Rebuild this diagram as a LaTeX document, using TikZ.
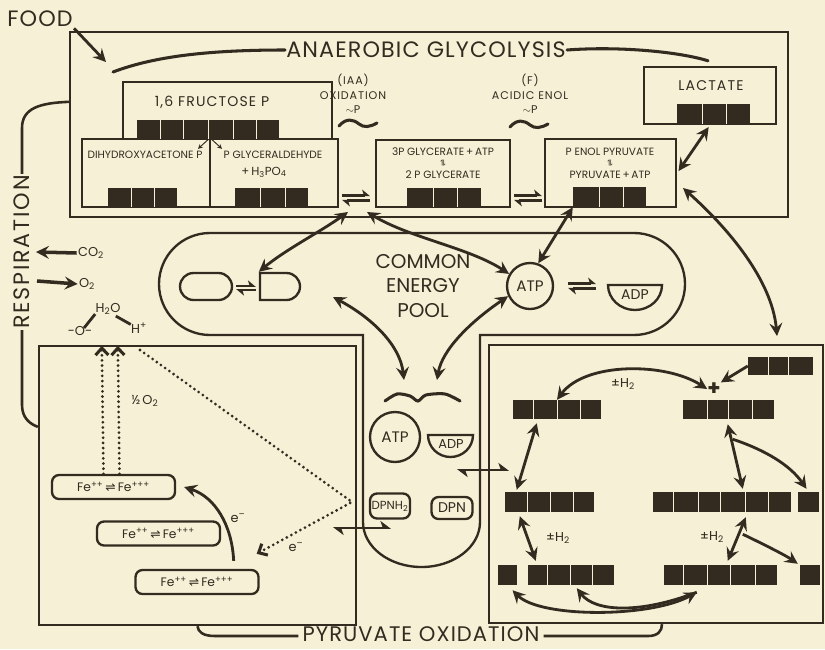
\documentclass[tikz,border=0pt]{standalone}
\usepackage{fontspec}
\setmainfont{Poppins}
\newfontfamily\harpfont{DejaVu Sans}
\newfontfamily\widefont{Poppins}[LetterSpace=8]
\newfontfamily\titlefont{Poppins}[LetterSpace=5]
\usetikzlibrary{positioning, calc, arrows.meta, fit, shapes.misc}
\definecolor{paper}{RGB}{245,240,214}
\definecolor{ink}{RGB}{52,43,32}

\begin{document}
\begin{tikzpicture}[
        x=0.03cm, y=-0.03cm,
        >={Stealth[length=11pt, width=11pt, inset=4pt]},
        frame/.style={draw=ink, line width=2pt},
        box/.style={frame, inner sep=0pt},
        pill/.style={frame, rounded corners=6pt, inner sep=0pt, text=ink, font=\fontsize{10.5}{11}\selectfont},
        molbar/.style={fill=ink, inner sep=0pt},
        cutline/.style={draw=paper, line width=0.8pt},
        bigtxt/.style={text=ink, inner sep=1pt, font=\fontsize{17}{21}\selectfont},
        titletxt/.style={text=ink, inner sep=1pt, font=\titlefont\fontsize{19}{21}\selectfont},
        midtxt/.style={text=ink, inner sep=1pt, font=\widefont\fontsize{12}{12}\selectfont},
        notetxt/.style={text=ink, inner sep=0pt, font=\widefont\fontsize{9.5}{12.5}\selectfont},
        boxtxt/.style={text=ink, inner sep=1pt, font=\fontsize{9}{10}\selectfont},
        smalltxt/.style={text=ink, inner sep=1pt, font=\fontsize{11}{12}\selectfont},
        arrow/.style={->, draw=ink, line width=2.4pt},
        twoway/.style={<->, draw=ink, line width=2.4pt},
        tinyarrow/.style={->, >={Stealth[length=4pt, width=4pt]}, draw=ink, line width=0.8pt},
        brace/.style={draw=ink, line width=2.6pt, line cap=round},
        bond/.style={draw=ink, line width=2.4pt},
        dots/.style={draw=ink, line width=2.6pt, line cap=round, dash pattern=on 0pt off 4.4pt},
        dotarrow/.style={dots, -{Straight Barb[length=6pt, width=11pt]}},
        harp/.style={draw=ink, line width=2pt, -{Stealth[harpoon, length=6pt, width=10pt, inset=1.5pt]}},
        xharp/.style={draw=ink, line width=2.2pt, {Stealth[harpoon, length=8pt, width=12pt, inset=2pt]}-{Stealth[harpoon, length=8pt, width=12pt, inset=2pt]}},
        eqm/.pic={
            \draw[harp] (-14,-2.5) -- (14,-2.5);
            \draw[harp] (14,2.5) -- (-14,2.5);
        }
    ]
        % paper
        \fill[paper] (0,0) rectangle (825,649);
        \useasboundingbox (0,0) rectangle (825,649);

        % Anaerobic glycolysis
        \node[box, fit={(70,32) (788,217)}] (glyco) {};
        \node[titletxt] (anaer) at (426,50) {ANAEROBIC GLYCOLYSIS};
        \node[titletxt] (food) at (40,19) {FOOD};
        \coordinate (foodin) at (106,62);
        \draw[arrow] (food.south east) -- (foodin);

        \node[box, fit={(123,82) (332,139)}] (fruc) {};
        \node[midtxt] (fructxt) at (212,102) {1,6 FRUCTOSE P};
        \node[box, fit={(82,139) (338,207)}] (triose) {};
        \draw[frame] (triose.north) -- (triose.south);
        \node[boxtxt] (dhap) at (145,155) {DIHYDROXYACETONE P};
        \node[boxtxt] (gapA) at (273,155) {P GLYCERALDEHYDE};
        \node[boxtxt, font=\fontsize{10}{11}\selectfont] (gapB) at (264,172) {+\,H\textsubscript{3}PO\textsubscript{4}};
        \draw[tinyarrow] (triose.north) -- ++(-12,11);
        \draw[tinyarrow] (triose.north) -- ++(12,11);

        \node[box, fit={(376,140) (510,207)}] (pgly) {};
        \node[boxtxt] (pglyA) at (443,152) {3P GLYCERATE\,+\,ATP};
        \node[boxtxt] (pglyM) at (443,163) {\rotatebox{90}{\harpfont\scriptsize ⇌}};
        \node[boxtxt] (pglyB) at (443,175) {2 P GLYCERATE};

        \node[box, fit={(545,139) (676,207)}] (pep) {};
        \node[boxtxt] (pepA) at (610,152) {P ENOL PYRUVATE};
        \node[boxtxt] (pepM) at (610,163) {\rotatebox{90}{\harpfont\scriptsize ⇌}};
        \node[boxtxt] (pepB) at (610,175) {PYRUVATE\,+\,ATP};

        \node[box, fit={(644,67) (776,124)}] (lact) {};
        \node[midtxt] (lacttxt) at (711,86) {LACTATE};

        \pic at (356,198) {eqm};
        \pic at (528,198) {eqm};

        % carbon chains
        \foreach \n/\xa/\ya/\xb/\yb/\cuts in {
                fbar/137/120/279/139/{160,183,208,233,256},
                dhapbar/108/188/177/207/{131,154},
                gapbar/235/188/308/207/{260,285},
                pglybar/407/188/481/207/{433,457},
                pepbar/573/187/646/207/{599,623},
                lacbar/677/104/750/124/{702,726},
                abar/513/400/601/419/{533,557,580},
                bbar/683/400/774/419/{707,728,752},
                sbar/748/357/813/375/{768,788},
                cbar/505/492/594/512/{527,550,573},
                dbar/653/492/791/512/{673,698,720,745,768},
                gbar/528/565/614/585/{547,570,592},
                hbar/664/565/777/585/{683,707,730,755}}{
            \node[molbar, fit={(\xa,\ya) (\xb,\yb)}] (\n) {};
            \foreach \cx in \cuts \draw[cutline] (\cx,\ya) -- (\cx,\yb);
        }
        \node[molbar, fit={(798,492) (819,512)}] (esq) {};
        \node[molbar, fit={(498,565) (517,585)}] (fsq) {};
        \node[molbar, fit={(800,565) (820,585)}] (isq) {};

        % high energy bonds
        \node[notetxt, align=center] (iaa) at (353,94) {(IAA)\\OXIDATION\\$\sim$P};
        \draw[brace] (339,126) .. controls (346,118) and (353,119) .. (359,124) .. controls (364,128) and (370,127) .. (377,123);
        \node[notetxt, align=center] (enol) at (530,94) {(F)\\ACIDIC ENOL\\$\sim$P};
        \draw[brace] (510,127) .. controls (517,119) and (524,120) .. (530,125) .. controls (535,129) and (541,128) .. (548,124);

        \coordinate (glyend) at (113,72);
        \draw[brace] (anaer.west) .. controls (200,50) and (150,58) .. (glyend);
        \draw[brace] (anaer.east) .. controls (620,46) and (680,52) .. ($(lact.north)+(-2,-5)$);
        \draw[twoway, shorten <=2pt, shorten >=2pt] (pep.east) -- (lact.south);

        % common energy pool
        \draw[frame] (210,233) -- (634,233) arc[start angle=-90, end angle=90, radius=51]
            -- (480,335) -- (480,522) arc[start angle=0, end angle=180, x radius=58.5, y radius=45]
            -- (363,335) -- (210,335) arc[start angle=90, end angle=270, radius=51] -- cycle;
        \node[bigtxt, align=center] (pool) at (423,286) {COMMON\\ENERGY\\POOL};
        \node[frame, rounded rectangle, minimum width=1.56cm, minimum height=0.81cm, inner sep=0pt] (pillL) at (206,286.5) {};
        \node[frame, rounded rectangle, rounded rectangle left arc=none, minimum width=1.2cm, minimum height=0.81cm, inner sep=0pt] (pillR) at (280,286.5) {};
        \pic[scale=0.7] at (246,288) {eqm};
        \node[frame, circle, minimum size=1.38cm, inner sep=0pt, text=ink, font=\fontsize{13}{14}\selectfont] (atp) at (530,286) {ATP};
        \pic at (582,286) {eqm};
        \draw[frame] (662,285) arc[start angle=0, end angle=180, x radius=27, y radius=25] -- cycle;
        \node[smalltxt, font=\fontsize{12}{13}\selectfont] (adp) at (635,295) {ADP};

        \draw[brace] plot[smooth] coordinates {(385,401) (397,394) (410,396) (418,401) (426,395) (445,394) (460,401)};
        \node[frame, circle, minimum size=1.5cm, inner sep=0pt, text=ink, font=\fontsize{13}{14}\selectfont] (atp2) at (395,437) {ATP};
        \draw[frame] (473,435) arc[start angle=0, end angle=180, x radius=22.5, y radius=22] -- cycle;
        \node[smalltxt] (adp2) at (451,444) {ADP};
        \node[pill, minimum width=1.2cm, minimum height=0.75cm, font=\fontsize{10}{11}\selectfont] (dpnh) at (390,506) {DPNH\textsubscript{2}};
        \node[pill, minimum width=1.23cm, minimum height=0.66cm, font=\fontsize{12}{13}\selectfont] (dpn) at (452,508) {DPN};

        \coordinate (gpl) at (348,212);
        \coordinate (gpr) at (367,212);
        \draw[twoway] (gpl) .. controls (320,232) and (285,250) .. (pillR.north west);
        \draw[twoway] (gpr) .. controls (410,238) and (470,248) .. (atp.150);
        \draw[twoway] (pepbar.south west) -- (atp.70);
        \coordinate (poolL) at (333,297);
        \coordinate (sqzl) at (404,380);
        \coordinate (sqzr) at (437,380);
        \draw[twoway] (poolL) .. controls (372,318) and (400,345) .. (sqzl);
        \draw[twoway] (atp.205) .. controls (470,322) and (442,350) .. (sqzr);

        \coordinate (pepR) at (683,188);
        \coordinate (cycin) at (777,336);
        \draw[twoway] (pepR) .. controls (728,228) and (772,280) .. (cycin);

        % pyruvate oxidation cycle
        \node[box, fit={(489,345) (823,623)}] (cycle) {};
        \node[text=ink, font=\fontsize{18}{18}\selectfont\bfseries, inner sep=0pt] (plus) at (714,389) {+};
        \draw[arrow] (sbar.west) -- (plus.north east);
        \draw[twoway] (abar.north) .. controls (585,362) and (665,362) .. (plus.west);
        \node[smalltxt] (hA) at (623,384) {±H\textsubscript{2}};
        \draw[twoway] ($(abar.south west)+(24,4)$) -- ($(cbar.north west)+(12,-2)$);
        \draw[twoway] ($(cbar.south west)+(15,4)$) -- ($(gbar.north west)+(8,-4)$);
        \node[smalltxt] (hB) at (558,538) {±H\textsubscript{2}};
        \draw[twoway] ($(bbar.south west)+(45,5)$) -- ($(dbar.north west)+(90,-3)$);
        \draw[arrow] ($(bbar.south west)+(50,20)$) .. controls (765,450) and (790,465) .. ($(esq.north)+(-2,-3)$);
        \draw[twoway] ($(dbar.south west)+(93,5)$) -- ($(hbar.north west)+(64,-4)$);
        \node[smalltxt] (hC) at (712,537) {±H\textsubscript{2}};
        \draw[arrow] ($(dbar.south west)+(90,22)$) .. controls (765,545) and (785,555) .. ($(isq.north west)+(-2,-1)$);
        \draw[twoway] ($(fsq.south)+(5,5)$) .. controls (540,618) and (650,618) .. ($(hbar.south west)+(33,7)$);
        \draw[<-, draw=ink, line width=2.4pt] ($(gbar.south west)+(49,3)$) .. controls (595,612) and (640,614) .. ($(hbar.south west)+(33,7)$);

        \coordinate (xl1) at (333,528);
        \coordinate (xr1) at (391,528);
        \draw[xharp] (xl1) -- (xr1);
        \coordinate (xl2) at (457,470);
        \coordinate (xr2) at (509,470);
        \draw[xharp] (xl2) -- (xr2);

        % respiratory chain
        \node[box, fit={(39,346) (356,625)}] (cyto) {};
        \foreach \n/\x/\y in {fe1/113.5/487, fe2/158.5/533.5, fe3/197/582}
            \node[pill, minimum width=3.69cm, minimum height=0.72cm] (\n) at (\x,\y) {Fe\textsuperscript{++}\,{\harpfont ⇌}\,Fe\textsuperscript{+++}};
        \draw[dotarrow] ($(fe1.north)+(-10,0)$) -- ($(cyto.north west)+(64,1)$);
        \draw[dotarrow] ($(fe1.north)+(6,0)$) -- ($(cyto.north west)+(80,1)$);
        \node[smalltxt] (halfo) at (145,401) {½\,O\textsubscript{2}};
        \coordinate (etop) at (140,350);
        \coordinate (eapex) at (352,502);
        \draw[dotarrow] (etop) -- (eapex) -- ($(fe3.north east)+(-3,-15)$);
        \node[smalltxt] (eA) at (296,547) {e\textsuperscript{–}};
        \draw[arrow] ($(fe3.north east)+(-26,-8)$) .. controls (232,525) and (215,497) .. ($(fe1.east)+(8,0)$);
        \node[smalltxt] (eB) at (238,518) {e\textsuperscript{–}};

        \node[smalltxt] (water) at (108,309) {H\textsubscript{2}O};
        \node[smalltxt] (oxy) at (80,331) {-O-};
        \node[smalltxt] (hplus) at (139,328) {H\textsuperscript{+}};
        \draw[bond] ($(oxy.north)+(4,3)$) -- ($(water.south west)+(1,-2)$);
        \draw[bond] ($(water.south east)+(-6,0)$) -- ($(hplus.north west)+(1,3)$);

        \node[smalltxt] (co2) at (91,253) {CO\textsubscript{2}};
        \coordinate (co2out) at (36,252);
        \draw[arrow, line width=3pt] (co2.west) -- (co2out);
        \node[smalltxt] (o2) at (87,284) {O\textsubscript{2}};
        \coordinate (o2in) at (37,281);
        \draw[arrow, line width=3pt] (o2in) -- (o2.west);

        % labels round the frame
        \node[titletxt, font=\widefont\fontsize{19}{21}\selectfont, rotate=90] (resp) at (22,252) {RESPIRATION};
        \draw[frame, line width=2.2pt] (resp.east) -- (22,128) .. controls (22,108) and (40,103) .. ($(glyco.north west)+(0,71)$);
        \draw[frame, line width=2.2pt] (resp.west) -- (22,405) .. controls (22,418) and (30,424) .. ($(cyto.north west)+(0,82)$);
        \node[titletxt, inner sep=0pt, font=\titlefont\fontsize{18}{19}\selectfont] (pyox) at (421,634) {PYRUVATE OXIDATION};
        \draw[frame, line width=2.2pt] ($(pyox.west)+(-4,2)$) -- (215,636) .. controls (203,636) and (198,632) .. (cyto.south);
        \draw[frame, line width=2.2pt] ($(pyox.east)+(4,2)$) -- (648,636) .. controls (658,636) and (662,631) .. ($(cycle.south)+(6,0)$);
    \end{tikzpicture}
\end{document}
